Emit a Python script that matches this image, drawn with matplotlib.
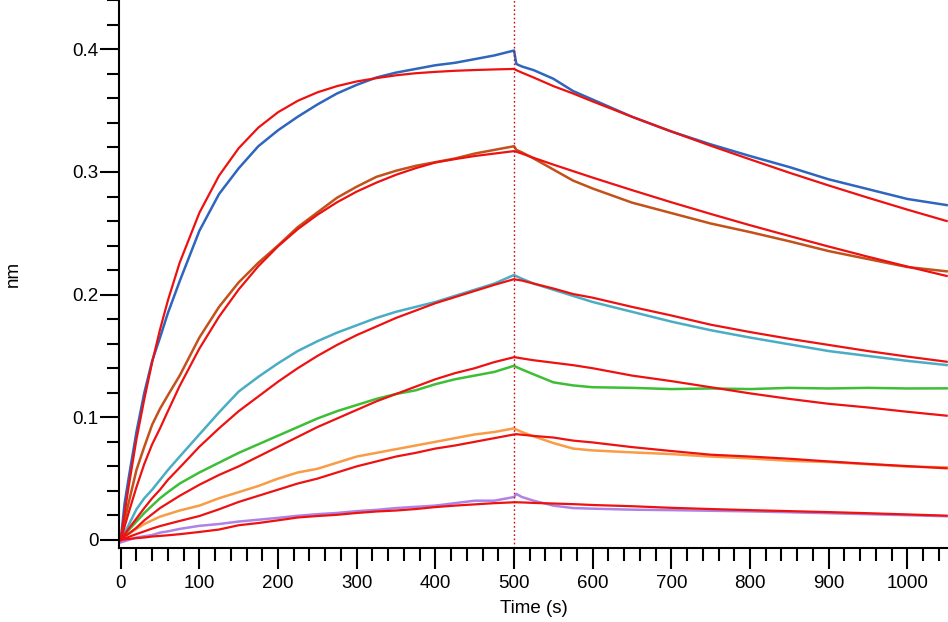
import matplotlib
matplotlib.use("Agg")
import matplotlib.pyplot as plt
from matplotlib.ticker import MultipleLocator

plt.rcParams['font.family'] = ['Liberation Sans', 'DejaVu Sans']

# time grids (s)
t_assoc = [0, 5, 10, 20, 30, 40, 50, 60, 75, 100, 125, 150, 175, 200, 225, 250,
           275, 300, 325, 350, 375, 400, 425, 450, 475, 500]
t_dissoc = [503, 510, 525, 550, 575, 600, 650, 700, 750, 800, 850, 900, 950, 1000, 1050]

# measured responses (nm), association phase
blue_a   = [0, 0.030, 0.050, 0.088, 0.120, 0.146, 0.165, 0.185, 0.211, 0.252, 0.282, 0.303, 0.321, 0.334,
            0.345, 0.355, 0.364, 0.371, 0.377, 0.381, 0.384, 0.387, 0.389, 0.392, 0.395, 0.399]
brown_a  = [0, 0.016, 0.030, 0.057, 0.076, 0.094, 0.107, 0.118, 0.134, 0.165, 0.190, 0.210, 0.226, 0.240,
            0.255, 0.267, 0.279, 0.288, 0.296, 0.301, 0.305, 0.308, 0.311, 0.315, 0.318, 0.321]
teal_a   = [0, 0.006, 0.012, 0.025, 0.034, 0.041, 0.049, 0.057, 0.068, 0.086, 0.104, 0.121, 0.133, 0.144,
            0.154, 0.162, 0.169, 0.175, 0.181, 0.186, 0.190, 0.194, 0.199, 0.204, 0.209, 0.216]
green_a  = [0, 0.004, 0.008, 0.015, 0.022, 0.028, 0.034, 0.039, 0.046, 0.055, 0.063, 0.071, 0.078, 0.085,
            0.092, 0.099, 0.105, 0.110, 0.115, 0.119, 0.122, 0.127, 0.131, 0.134, 0.137, 0.142]
orange_a = [0, 0.003, 0.005, 0.009, 0.013, 0.016, 0.019, 0.021, 0.024, 0.028, 0.034, 0.039, 0.044, 0.050,
            0.055, 0.058, 0.063, 0.068, 0.071, 0.074, 0.077, 0.080, 0.083, 0.086, 0.088, 0.091]
purple_a = [-0.002, -0.001, 0.000, 0.002, 0.003, 0.004, 0.006, 0.007, 0.009, 0.0115, 0.013, 0.015, 0.0165,
            0.018, 0.0197, 0.021, 0.022, 0.0235, 0.0245, 0.026, 0.027, 0.028, 0.030, 0.032, 0.032, 0.035]

# measured responses (nm), dissociation phase
blue_d   = [0.388, 0.386, 0.383, 0.376, 0.366, 0.359, 0.345, 0.333, 0.3225, 0.313, 0.304, 0.294, 0.286, 0.278, 0.273]
brown_d  = [0.318, 0.316, 0.311, 0.302, 0.293, 0.2865, 0.275, 0.2665, 0.258, 0.251, 0.2435, 0.2355, 0.229, 0.2225, 0.219]
teal_d   = [0.215, 0.213, 0.209, 0.204, 0.199, 0.194, 0.186, 0.178, 0.171, 0.165, 0.1595, 0.154, 0.150, 0.146, 0.1426]
green_d  = [0.141, 0.139, 0.135, 0.1285, 0.126, 0.1245, 0.124, 0.123, 0.1235, 0.123, 0.124, 0.1235, 0.124, 0.1235, 0.1236]
orange_d = [0.090, 0.088, 0.0845, 0.079, 0.0745, 0.073, 0.0714, 0.070, 0.068, 0.0665, 0.0645, 0.0635, 0.0617, 0.0598, 0.0592]
purple_d = [0.0375, 0.035, 0.032, 0.028, 0.026, 0.0255, 0.0247, 0.0243, 0.0238, 0.0233, 0.0226, 0.0218, 0.021, 0.0202, 0.0193]

# fitted curves (nm), association phase
blue_fa   = [0, 0.022, 0.043, 0.082, 0.1148, 0.1449, 0.1716, 0.1953, 0.2261, 0.2667, 0.297, 0.3194, 0.3362,
             0.3487, 0.358, 0.3649, 0.370, 0.3738, 0.3765, 0.3788, 0.3805, 0.3816, 0.3825, 0.3831, 0.3836, 0.384]
brown_fa  = [0, 0.011, 0.022, 0.043, 0.062, 0.078, 0.091, 0.105, 0.1256, 0.156, 0.182, 0.2042, 0.2232,
             0.2394, 0.2533, 0.2651, 0.2753, 0.284, 0.2913, 0.2977, 0.3031, 0.3077, 0.3105, 0.313, 0.315, 0.317]
teal_fa   = [0, 0.0045, 0.009, 0.0175, 0.026, 0.034, 0.041, 0.049, 0.059, 0.076, 0.091, 0.105, 0.117, 0.129,
             0.140, 0.150, 0.159, 0.167, 0.174, 0.181, 0.187, 0.193, 0.198, 0.203, 0.208, 0.2126]
green_fa  = [0, 0.003, 0.005, 0.010, 0.016, 0.021, 0.026, 0.030, 0.036, 0.045, 0.053, 0.060, 0.068, 0.076,
             0.084, 0.092, 0.099, 0.106, 0.113, 0.119, 0.125, 0.131, 0.136, 0.140, 0.145, 0.149]
orange_fa = [0, 0.0012, 0.0024, 0.0048, 0.007, 0.0093, 0.0113, 0.013, 0.0155, 0.0195, 0.025, 0.031, 0.036,
             0.041, 0.046, 0.050, 0.055, 0.060, 0.064, 0.068, 0.071, 0.0745, 0.077, 0.080, 0.083, 0.086]
purple_fa = [0, 0.0004, 0.0008, 0.0015, 0.002, 0.0028, 0.0033, 0.0038, 0.0047, 0.0065, 0.0085, 0.012, 0.0138,
             0.016, 0.0183, 0.0195, 0.0205, 0.022, 0.0232, 0.024, 0.0252, 0.0268, 0.028, 0.029, 0.030, 0.0307]

# fitted curves (nm), dissociation phase
blue_fd   = [0.383, 0.381, 0.377, 0.370, 0.364, 0.3575, 0.345, 0.333, 0.3214, 0.3103, 0.2994, 0.289, 0.279, 0.2693, 0.260]
brown_fd  = [0.3165, 0.315, 0.3115, 0.306, 0.3007, 0.2954, 0.2852, 0.2753, 0.2658, 0.2566, 0.2478, 0.2392, 0.2309, 0.2229, 0.2152]
teal_fd   = [0.2122, 0.2115, 0.209, 0.205, 0.2005, 0.1975, 0.190, 0.183, 0.1755, 0.1695, 0.164, 0.159, 0.154, 0.1495, 0.1453]
green_fd  = [0.1488, 0.148, 0.1465, 0.1445, 0.1425, 0.140, 0.134, 0.1295, 0.1245, 0.1195, 0.115, 0.111, 0.108, 0.1045, 0.1013]
orange_fd = [0.0862, 0.0858, 0.0848, 0.0835, 0.081, 0.0795, 0.0757, 0.0725, 0.0695, 0.068, 0.0662, 0.064, 0.062, 0.0602, 0.0584]
purple_fd = [0.0307, 0.0306, 0.0302, 0.0297, 0.0292, 0.0285, 0.0275, 0.0262, 0.0252, 0.0243, 0.0235, 0.0227, 0.0218, 0.0208, 0.0198]

series = [
    ("#2F66BD", blue_a, blue_d, blue_fa, blue_fd),
    ("#C2511A", brown_a, brown_d, brown_fa, brown_fd),
    ("#4BADC4", teal_a, teal_d, teal_fa, teal_fd),
    ("#3DBE36", green_a, green_d, green_fa, green_fd),
    ("#F89C45", orange_a, orange_d, orange_fa, orange_fd),
    ("#AE83E6", purple_a, purple_d, purple_fa, purple_fd),
]

fig = plt.figure(figsize=(9.48, 6.22), dpi=100)
ax = fig.add_axes([0.1255, 0.1185, 0.8745, 0.8815])

t_all = t_assoc + t_dissoc
for color, da, dd, fa, fd in series:
    ax.plot(t_all, da + dd, color=color, lw=1.8, solid_joinstyle='round')
for color, da, dd, fa, fd in series:
    ax.plot(t_all, fa + fd, color="#EE1111", lw=1.6, solid_joinstyle='round')

ax.axvline(500, color="#C81010", lw=1.0, linestyle=(0, (1.2, 1.8)))

ax.set_xlim(-2.2, 1051.7)
ax.set_ylim(-0.0068, 0.4402)

for s in ("top", "right"):
    ax.spines[s].set_visible(False)
for s in ("left", "bottom"):
    ax.spines[s].set_linewidth(1.5)

ax.xaxis.set_major_locator(MultipleLocator(100))
ax.xaxis.set_minor_locator(MultipleLocator(20))
ax.yaxis.set_major_locator(MultipleLocator(0.1))
ax.yaxis.set_minor_locator(MultipleLocator(0.02))

ax.tick_params(axis='x', which='major', direction='out', length=15, width=1.5, labelsize=13.5, pad=4)
ax.tick_params(axis='x', which='minor', direction='out', length=9.5, width=1.5)
ax.tick_params(axis='y', which='major', direction='out', length=13.5, width=1.5, labelsize=13.5, pad=1)
ax.tick_params(axis='y', which='minor', direction='out', length=8.5, width=1.5)

ax.set_yticks([0, 0.1, 0.2, 0.3, 0.4])
ax.set_yticklabels(["0", "0.1", "0.2", "0.3", "0.4"])

ax.set_xlabel("Time (s)", fontsize=13.5, labelpad=6)
fig.text(0.014, 0.56, "nm", rotation=90, fontsize=13.5, ha='center', va='center')

fig.savefig("out.png", dpi=100)
